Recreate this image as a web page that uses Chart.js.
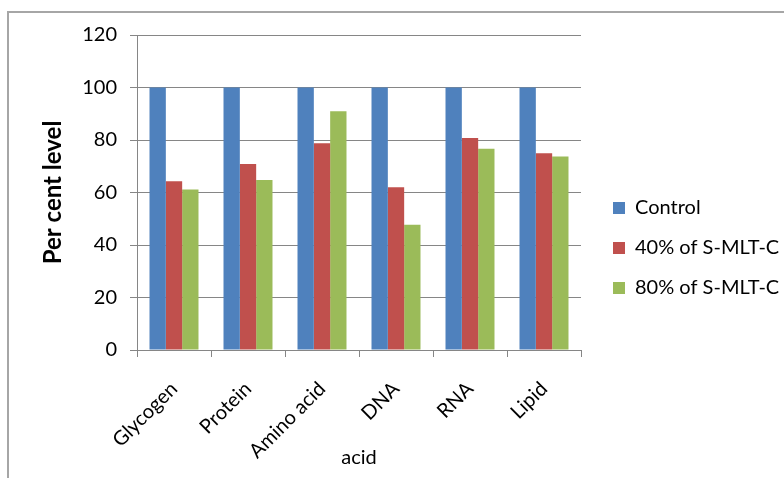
<!DOCTYPE html>
<html>
<head>
<meta charset="utf-8">
<script src="https://cdn.jsdelivr.net/npm/chart.js@4/dist/chart.umd.min.js"></script>
<style>
  html, body { margin: 0; padding: 0; background: #fff; overflow: hidden; }
  #wrap { position: relative; width: 784px; height: 478px; }
  #frame { position: absolute; left: 7px; top: 11px; width: 820px; height: 520px;
           border: 2px solid #a6a6a6; box-sizing: border-box; }
  canvas { position: absolute; left: 0; top: 0; }
</style>
</head>
<body>
<div id="wrap">
  <div id="frame"></div>
  <canvas id="chart" width="784" height="478"></canvas>
</div>
<script>
// Biochemical constituents, per cent of control
const categories = ['Glycogen', 'Protein', 'Amino acid', 'DNA', 'RNA', 'Lipid'];
const controlValues = [100, 100, 100, 100, 100, 100];
const mlt40Values = [64.3, 70.9, 78.8, 62.0, 80.8, 75.0];
const mlt80Values = [61.1, 64.8, 91.0, 47.7, 76.7, 73.7];
const seriesNames = ['Control', '40% of S-MLT-C', '80% of S-MLT-C'];
const yTicks = [0, 20, 40, 60, 80, 100, 120];
const xTitle = 'acid';
const yTitle = 'Per cent level';

const colors = ['#4F81BD', '#C0504D', '#9BBB59'];
const gridColor = '#868686';

Chart.defaults.font.family = 'Lato, "Open Sans", sans-serif';
Chart.defaults.color = '#000';

const seriesValues = [controlValues, mlt40Values, mlt80Values];

new Chart(document.getElementById('chart'), {
  type: 'bar',
  data: {
    labels: categories,
    datasets: seriesNames.map((name, i) => ({
      label: name,
      data: seriesValues[i],
      backgroundColor: colors[i],
      borderWidth: 0,
      categoryPercentage: 0.662,
      barPercentage: 1.0
    }))
  },
  options: {
    responsive: false,
    animation: false,
    devicePixelRatio: 1,
    layout: { padding: { top: 18, left: 0, right: 0, bottom: 0 } },
    plugins: {
      title: { display: true, text: '', padding: { top: 0, bottom: 5 }, font: { size: 10, lineHeight: 1.2 } },
      tooltip: { enabled: false },
      legend: {
        position: 'right',
        align: 'center',
        maxWidth: 191,
        labels: {
          boxWidth: 12,
          boxHeight: 12,
          padding: 20,
          color: '#000',
          font: { size: 20 }
        }
      }
    },
    scales: {
      x: {
        grid: { display: true, drawOnChartArea: false, drawTicks: true, tickLength: 7, color: gridColor, offset: true },
        border: { display: true, color: gridColor, width: 1 },
        ticks: { minRotation: 45, maxRotation: 45, padding: 20, color: '#000', font: { size: 20 } },
        title: { display: true, text: xTitle, color: '#000', font: { size: 20 }, padding: { top: 0, bottom: 8 } },
        afterFit: (s) => { s.height = 128; }
      },
      y: {
        min: 0,
        max: 120,
        afterBuildTicks: (s) => { s.ticks = yTicks.map(v => ({ value: v })); },
        grid: { display: true, drawTicks: true, tickLength: 7, color: gridColor, lineWidth: 1 },
        border: { display: true, color: gridColor, width: 1 },
        ticks: { padding: 13, color: '#000', font: { size: 20 } },
        title: { display: true, text: yTitle, color: '#000', font: { size: 24, weight: 'bold' }, padding: { top: 39, bottom: 0 } },
        afterFit: (s) => { s.width = 137; }
      },
      gap: {
        type: 'linear',
        position: 'right',
        display: true,
        grid: { display: false },
        border: { display: false },
        ticks: { display: false },
        afterFit: (s) => { s.width = 12; }
      }
    }
  }
});
</script>
</body>
</html>
